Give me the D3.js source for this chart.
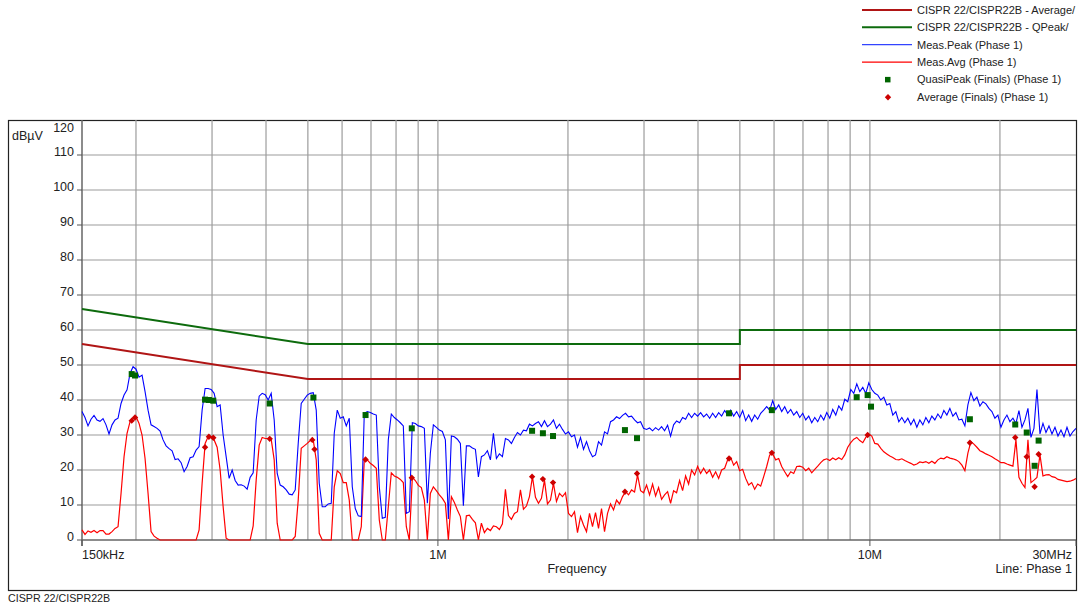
<!DOCTYPE html>
<html>
<head>
<script src="https://d3js.org/d3.v7.min.js"></script>
<style>
  body { margin: 0; background: #fff; }
  svg text { font-family: "Liberation Sans", Arial, sans-serif; fill: #222; }
</style>
</head>
<body>
<div id="container"></div>
<script>
  // sweep: log spaced points from 150 kHz to 30 MHz
  const sweepStartMHz = 0.15;
  const sweepStopMHz = 30;

  // Meas.Peak (Phase 1), dBuV
  const measPeak = [
    36.7,35.0,32.6,34.5,35.6,34.3,33.9,34.7,32.9,30.3,
    32.9,34.3,34.8,39.0,41.4,42.9,47.6,49.5,48.8,46.5,
    47.1,42.4,37.1,32.9,32.4,31.9,31.1,28.6,26.9,26.1,
    25.5,23.0,23.2,22.1,19.5,21.0,23.5,23.8,25.7,26.7,
    37.1,43.3,43.3,43.0,41.9,38.1,38.6,30.0,23.8,17.6,
    20.0,17.0,15.7,15.8,15.4,14.5,17.9,19.2,34.3,41.1,
    41.9,41.5,40.0,41.9,34.3,19.0,15.7,15.2,14.3,13.1,
    12.9,14.3,27.6,39.0,40.2,41.4,41.9,42.1,37.1,16.2,
    9.5,9.5,10.3,10.5,30.5,37.1,34.8,35.2,32.6,34.8,
    15.2,9.0,6.9,6.7,36.2,36.7,36.4,36.0,35.7,15.2,
    6.2,6.5,28.6,36.0,35.0,34.3,33.5,32.6,7.6,8.1,
    33.5,33.3,32.6,32.4,31.9,10.5,24.8,32.9,32.2,31.4,
    31.0,28.6,6.0,29.7,29.5,28.8,27.6,9.8,26.9,26.9,
    26.3,25.9,18.0,23.8,24.3,25.5,22.9,30.5,23.3,24.6,
    23.8,29.0,28.6,27.6,29.3,30.7,30.0,31.4,31.2,33.1,
    32.6,33.3,33.8,32.4,34.1,32.4,33.1,34.3,31.9,33.1,
    31.6,30.3,30.9,29.5,30.0,26.5,29.3,25.9,28.1,25.5,
    23.8,24.3,28.1,27.1,30.9,30.3,33.8,34.3,35.2,34.7,
    35.6,36.2,35.2,35.4,34.3,33.5,33.8,31.9,31.6,32.0,
    31.2,32.1,31.4,32.4,31.2,32.8,29.7,32.9,34.0,33.5,
    35.0,34.5,36.2,35.0,36.2,35.4,36.4,35.2,36.0,34.8,
    36.2,35.0,36.4,35.4,37.0,35.7,37.1,35.4,36.7,35.0,
    37.0,34.1,35.7,33.9,35.7,34.5,36.2,37.1,38.1,37.1,
    39.8,37.3,38.6,36.7,38.1,36.2,37.3,35.7,36.7,35.0,
    36.2,34.3,35.4,33.5,35.0,33.8,35.7,34.3,36.4,34.8,
    37.3,35.7,38.3,37.1,40.2,39.5,43.0,41.9,44.6,42.4,
    43.6,41.9,44.9,43.0,41.9,41.4,40.0,40.8,38.6,39.0,
    35.7,36.7,33.8,35.0,33.5,34.8,32.9,34.5,32.2,34.3,
    32.9,35.0,33.5,35.4,34.3,36.0,34.8,37.0,35.7,37.6,
    35.4,36.4,34.3,34.5,32.6,38.6,42.1,39.8,40.8,38.3,
    39.5,38.9,37.6,36.7,34.8,35.7,32.2,34.3,35.7,33.8,
    34.8,33.3,37.0,32.2,34.3,37.6,29.3,31.9,43.0,30.3,
    33.3,30.7,32.6,30.3,32.2,29.7,31.4,29.5,32.2,29.7,
    31.0,31.9
  ];

  // Meas.Avg (Phase 1), dBuV
  const measAvg = [
    2.9,1.6,2.6,2.2,2.7,2.1,2.7,2.7,1.7,1.7,
    2.4,3.3,3.8,13.3,23.8,30.5,33.8,34.8,35.2,33.3,
    30.0,23.3,13.3,2.4,1.1,0.5,0,0,0,0,
    0,0,0,0,0,0,0,0,0,2.9,
    16.2,27.6,29.5,29.5,28.6,26.5,20.0,9.5,0.5,0,
    0,0,0,0,0,0,0,4.0,17.1,27.1,
    29.3,29.0,29.0,28.8,22.9,4.8,0,0,0,0,
    0,1.0,11.4,26.2,26.9,27.6,28.4,28.6,22.9,1.9,
    0,0,0,0,15.2,19.8,19.0,16.4,16.4,11.4,
    0,0,0,3.8,22.9,22.9,21.9,21.3,20.5,5.7,
    0,0,9.5,19.2,18.3,17.9,17.3,16.4,3.8,0,
    17.9,17.0,15.6,15.0,11.4,0,13.3,15.2,14.1,12.9,
    11.9,10.5,0,12.4,10.7,8.6,6.7,0,6.9,7.1,
    5.9,4.9,0,4.8,2.1,3.3,2.7,4.0,3.8,3.0,
    4.6,14.5,7.0,5.9,7.6,8.1,14.3,8.8,9.7,12.4,
    18.1,12.2,10.5,11.9,17.1,10.3,11.4,16.2,11.0,13.3,
    12.4,13.5,7.6,6.7,8.1,2.1,6.7,4.3,2.4,7.6,
    3.8,7.8,3.3,9.0,2.4,7.6,10.3,8.6,11.4,10.3,
    12.4,13.8,12.9,14.3,13.7,18.6,14.1,13.5,15.7,12.9,
    16.0,12.6,15.0,11.6,12.9,13.8,10.5,14.1,13.5,17.0,
    14.1,18.3,16.0,20.0,18.6,21.0,19.0,20.5,19.0,20.0,
    17.9,19.5,17.6,20.0,20.5,22.9,23.6,21.4,22.4,19.8,
    20.2,17.6,15.7,16.4,14.5,16.0,15.4,18.1,21.0,24.3,
    24.6,22.9,23.3,21.0,19.5,18.1,19.5,19.0,21.0,21.1,
    20.8,19.8,20.5,19.2,20.2,21.1,22.1,22.9,23.2,22.7,
    23.4,22.9,23.5,23.0,24.3,26.5,27.8,28.8,29.3,28.4,
    27.8,29.3,30.3,29.7,27.6,27.4,26.2,25.2,24.6,24.0,
    23.6,23.0,22.9,23.2,22.7,22.3,21.9,21.4,21.7,22.3,
    22.1,22.4,21.9,22.5,21.9,22.9,23.4,23.2,23.8,23.4,
    23.2,22.9,22.4,21.4,19.8,24.8,28.1,27.4,26.5,25.5,
    25.1,24.6,24.2,23.8,23.2,22.7,22.1,22.1,21.7,21.4,
    21.1,28.6,17.9,16.2,15.0,28.6,16.4,17.1,17.9,24.3,
    18.3,18.6,18.7,18.1,17.9,17.3,17.1,16.9,16.7,16.8,
    17.1,17.6
  ];

  // QuasiPeak (Finals)
  const qpFreqs = [0.1955,0.199,0.289,0.295,0.302,0.408,0.515,0.680,0.870,1.652,1.75,1.847,
                   2.71,2.89,4.72,5.93,9.32,9.88,10.06,17.04,21.7,23.07,24.06,24.58];
  const qpLevels = [47.4,47.0,40.1,40.0,39.8,39.0,40.7,35.7,31.9,31.2,30.5,29.7,
                    31.4,29.1,36.2,37.1,40.8,41.4,38.1,34.5,33.0,30.7,21.2,28.4];

  // Average (Finals)
  const avgFreqs = [0.1955,0.199,0.289,0.295,0.302,0.408,0.512,0.518,0.680,0.870,1.652,1.75,
                    1.847,2.71,2.89,4.72,5.93,9.88,17.04,21.7,23.07,24.06,24.58];
  const avgLevels = [34.1,35.0,26.5,29.5,29.2,28.9,28.6,25.9,23.0,17.8,18.1,17.4,
                     16.4,13.8,19.0,23.3,24.9,30.0,27.8,29.3,23.8,15.2,24.5];

  // CISPR 22 class B limits
  const limitFreqs = [0.15, 0.5, 5, 5, 30];
  const qpLimit = [66, 56, 56, 60, 60];
  const avgLimit = [56, 46, 46, 50, 50];

  const gridFreqs = [0.2,0.3,0.4,0.5,0.6,0.7,0.8,0.9,1,2,3,4,5,6,7,8,9,10,20];
  const levelTicks = [0,10,20,30,40,50,60,70,80,90,100,110,120];
  const freqTicks = [0.15, 1, 10, 30];
  const freqTickLabels = ["150kHz", "1M", "10M", "30MHz"];

  const legendLabels = [
    "CISPR 22/CISPR22B - Average/",
    "CISPR 22/CISPR22B - QPeak/",
    "Meas.Peak (Phase 1)",
    "Meas.Avg (Phase 1)",
    "QuasiPeak (Finals) (Phase 1)",
    "Average (Finals) (Phase 1)"
  ];

  const colAvgLimit = "#b01515";
  const colQpLimit = "#0d6b0d";
  const colPeak = "#0000ff";
  const colAvg = "#ff0000";
  const colQpMark = "#006400";
  const colAvgMark = "#cc0000";
  const colGrid = "#9c9c9c";

  const width = 1078, height = 606;
  const plot = { left: 82, right: 1076, top: 120, bottom: 540 };

  const svg = d3.select("#container").append("svg")
    .attr("width", width).attr("height", height);

  const x = d3.scaleLog().domain([sweepStartMHz, sweepStopMHz]).range([plot.left, plot.right]);
  const y = d3.scaleLinear().domain([0, 120]).range([plot.bottom, plot.top]);

  const n = measPeak.length;
  const sweepFreqs = measPeak.map((_, i) => sweepStartMHz * Math.pow(sweepStopMHz / sweepStartMHz, i / (n - 1)));

  // outer frame
  svg.append("rect")
    .attr("x", 8.5).attr("y", 120.5).attr("width", 1068).attr("height", 470)
    .attr("fill", "none").attr("stroke", "#222").attr("stroke-width", 1.2);

  // grid
  const grid = svg.append("g");
  grid.selectAll("line.v").data(gridFreqs).join("line")
    .attr("x1", d => x(d)).attr("x2", d => x(d))
    .attr("y1", plot.top).attr("y2", plot.bottom)
    .attr("stroke", colGrid).attr("stroke-width", 1.2);
  grid.selectAll("line.h").data(levelTicks.filter(d => d > 0 && d < 120)).join("line")
    .attr("x1", plot.left).attr("x2", plot.right)
    .attr("y1", d => y(d)).attr("y2", d => y(d))
    .attr("stroke", colGrid).attr("stroke-width", 1.2);

  // axes
  svg.append("line").attr("x1", plot.left).attr("x2", plot.left)
    .attr("y1", plot.top).attr("y2", plot.bottom + 6).attr("stroke", "#666").attr("stroke-width", 1.5);
  svg.append("line").attr("x1", plot.left).attr("x2", plot.right)
    .attr("y1", plot.bottom).attr("y2", plot.bottom).attr("stroke", "#666").attr("stroke-width", 1.5);

  svg.append("g").selectAll("line").data(levelTicks.filter(d => d < 120)).join("line")
    .attr("x1", plot.left - 5).attr("x2", plot.left)
    .attr("y1", d => y(d)).attr("y2", d => y(d))
    .attr("stroke", "#555").attr("stroke-width", 1);
  svg.append("g").selectAll("line").data(freqTicks).join("line")
    .attr("x1", d => x(d)).attr("x2", d => x(d))
    .attr("y1", plot.bottom).attr("y2", plot.bottom + 6)
    .attr("stroke", "#555").attr("stroke-width", 1);

  svg.append("g").selectAll("text").data(levelTicks).join("text")
    .attr("x", 74).attr("y", d => d === 120 ? y(d) + 11.5 : y(d) + 1)
    .attr("text-anchor", "end").attr("font-size", 12.5)
    .text(d => d);

  svg.append("g").selectAll("text").data(freqTicks).join("text")
    .attr("x", (d, i) => i === 0 ? x(d) : (i === freqTicks.length - 1 ? x(d) - 4 : x(d)))
    .attr("y", 558.5)
    .attr("text-anchor", (d, i) => i === 0 ? "start" : (i === freqTicks.length - 1 ? "end" : "middle"))
    .attr("font-size", 12.5)
    .text((d, i) => freqTickLabels[i]);

  svg.append("text").attr("x", 12).attr("y", 139.5).attr("font-size", 12.5).text("dBµV");
  svg.append("text").attr("x", 577).attr("y", 572.5).attr("text-anchor", "middle")
    .attr("font-size", 12.5).text("Frequency");
  svg.append("text").attr("x", 1072).attr("y", 572.5).attr("text-anchor", "end")
    .attr("font-size", 12.5).text("Line: Phase 1");
  svg.append("text").attr("x", 8).attr("y", 601.5).attr("font-size", 10.7).text("CISPR 22/CISPR22B");

  // limit lines
  const limitLine = d3.line().x(d => x(d[0])).y(d => y(d[1]));
  svg.append("path").datum(limitFreqs.map((f, i) => [f, avgLimit[i]]))
    .attr("d", limitLine).attr("fill", "none").attr("stroke", colAvgLimit).attr("stroke-width", 2);
  svg.append("path").datum(limitFreqs.map((f, i) => [f, qpLimit[i]]))
    .attr("d", limitLine).attr("fill", "none").attr("stroke", colQpLimit).attr("stroke-width", 2);

  // measurement traces
  const trace = d3.line().x((d, i) => x(sweepFreqs[i])).y(d => y(d));
  svg.append("path").datum(measAvg).attr("d", trace)
    .attr("fill", "none").attr("stroke", colAvg).attr("stroke-width", 1.2);
  svg.append("path").datum(measPeak).attr("d", trace)
    .attr("fill", "none").attr("stroke", colPeak).attr("stroke-width", 1.1);

  // finals
  svg.append("g").selectAll("rect").data(qpFreqs).join("rect")
    .attr("x", d => x(d) - 3).attr("y", (d, i) => y(qpLevels[i]) - 3)
    .attr("width", 6).attr("height", 6).attr("fill", colQpMark);
  const diamond = d3.symbol().type(d3.symbolDiamond2).size(26);
  svg.append("g").selectAll("path").data(avgFreqs).join("path")
    .attr("d", diamond)
    .attr("transform", (d, i) => `translate(${x(d)},${y(avgLevels[i])})`)
    .attr("fill", colAvgMark);

  // legend
  const legend = svg.append("g");
  const rowY = i => 10 + i * 17.35;
  const lineStyles = [
    { c: colAvgLimit, w: 2 }, { c: colQpLimit, w: 2 },
    { c: "#3344ff", w: 1.2 }, { c: colAvg, w: 1.2 }
  ];
  legend.selectAll("line").data(lineStyles).join("line")
    .attr("x1", 862).attr("x2", 912)
    .attr("y1", (d, i) => rowY(i)).attr("y2", (d, i) => rowY(i))
    .attr("stroke", d => d.c).attr("stroke-width", d => d.w);
  legend.append("rect").attr("x", 885).attr("y", rowY(4) - 2.5)
    .attr("width", 5.5).attr("height", 5.5).attr("fill", colQpMark);
  legend.append("path").attr("d", diamond)
    .attr("transform", `translate(888,${rowY(5) + 0.5})`).attr("fill", colAvgMark);
  legend.selectAll("text").data(legendLabels).join("text")
    .attr("x", 917).attr("y", (d, i) => rowY(i) + 4)
    .attr("font-size", 11).text(d => d);
</script>
</body>
</html>
